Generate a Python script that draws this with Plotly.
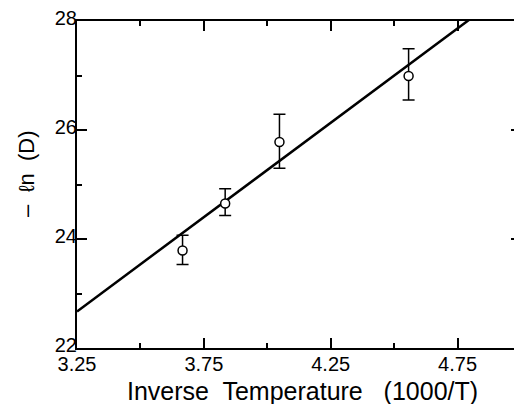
import plotly.graph_objects as go

# Data
inv_temp = [3.666, 3.834, 4.048, 4.557]
neg_ln_d = [23.79, 24.65, 25.78, 26.99]
err_plus = [0.28, 0.27, 0.51, 0.50]
err_minus = [0.26, 0.22, 0.48, 0.44]

fit_x = [3.25, 5.0]
fit_y = [22.67, 28.73]

x_ticks = [3.25, 3.75, 4.25, 4.75]
y_ticks = [22, 24, 26, 28]

FONT = "Liberation Sans, Arial, Helvetica, sans-serif"

fig = go.Figure()
fig.add_trace(go.Scatter(
    x=fit_x, y=fit_y, mode="lines",
    line=dict(color="black", width=2.5),
    showlegend=False, hoverinfo="skip",
))
fig.add_trace(go.Scatter(
    x=inv_temp, y=neg_ln_d, mode="markers",
    marker=dict(symbol="circle", size=9, color="white",
                line=dict(color="black", width=1.5)),
    error_y=dict(type="data", symmetric=False, array=err_plus,
                 arrayminus=err_minus, color="black", thickness=1.5, width=6),
    showlegend=False,
))

axis_common = dict(
    showgrid=False, zeroline=False, showline=True, linecolor="black",
    linewidth=2, mirror="ticks", ticks="inside", ticklen=10, tickwidth=1.5,
    tickcolor="black", tickfont=dict(family=FONT, size=20, color="black"),
    automargin=False, ticklabeloverflow="allow",
)

fig.update_xaxes(
    range=[3.25, 5.0], tickmode="array", tickvals=x_ticks,
    ticktext=[f"{v:.2f}" for v in x_ticks],
    minor=dict(tickvals=[3.5, 4.0, 4.5], ticks="inside", ticklen=5,
               tickwidth=1.5, tickcolor="black"),
    ticklabelstandoff=-3,
    **axis_common,
)
fig.update_yaxes(
    range=[22, 28], tickmode="array", tickvals=y_ticks,
    ticktext=[str(v) for v in y_ticks],
    minor=dict(tickvals=[23, 25, 27], ticks="inside", ticklen=5,
               tickwidth=1.5, tickcolor="black"),
    ticklabelstandoff=-6,
    ticklabelshift=-3,
    **axis_common,
)

fig.add_annotation(
    text="Inverse&nbsp; Temperature&nbsp;&nbsp; (1000/T)",
    xref="paper", yref="paper", x=0.507, y=-0.133,
    xanchor="center", yanchor="middle", showarrow=False,
    font=dict(family=FONT, size=25, color="black"),
)
fig.add_annotation(
    text="–&nbsp;&nbsp;ℓn&nbsp;&nbsp;(D)",
    xref="paper", yref="paper", x=-0.115, y=0.535,
    xanchor="center", yanchor="middle", showarrow=False, textangle=-90,
    font=dict(family=FONT, size=22, color="black"),
)

# the page body adds an 8px offset, so the figure is sized to fit the window
fig.update_layout(
    width=514, height=396,
    margin=dict(l=69, r=1, t=13, b=56),
    paper_bgcolor="white", plot_bgcolor="white",
)

fig.write_html("out.html")
